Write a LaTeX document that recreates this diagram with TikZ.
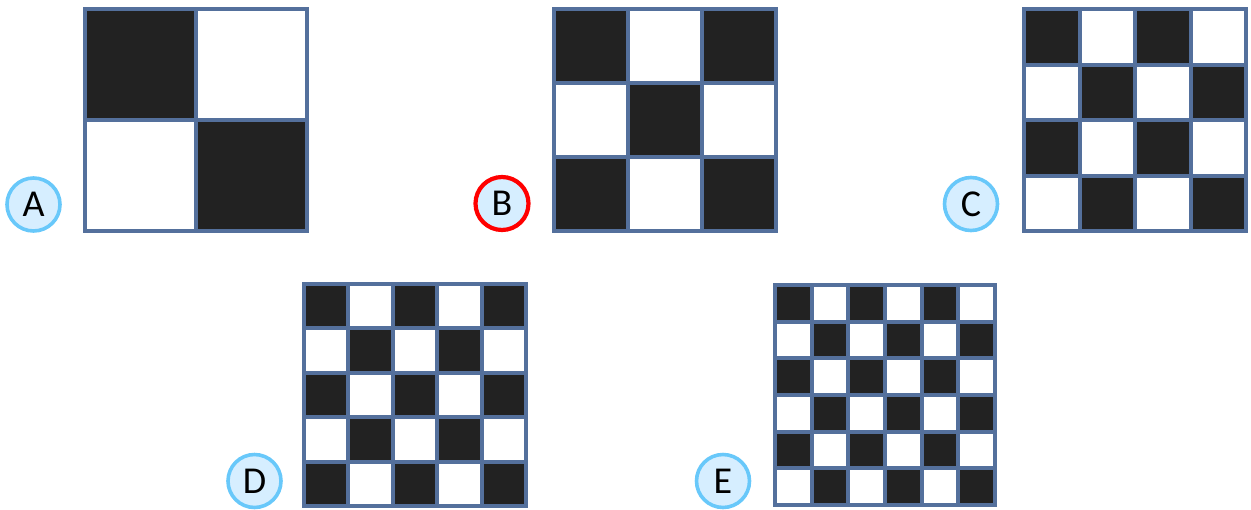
\documentclass[tikz,border=0pt]{standalone}
\usepackage{fontspec}
\setmainfont{Carlito}
\definecolor{gridblue}{RGB}{84,112,156}
\definecolor{cellblack}{RGB}{34,34,34}
\definecolor{badgefill}{RGB}{214,238,255}
\definecolor{badgeline}{RGB}{104,200,250}
\newcommand{\board}[4]{%
  \pgfmathsetmacro{\cellw}{#3/#4}
  \foreach \i in {1,...,#4} \foreach \j in {1,...,#4} {
    \pgfmathparse{int(mod(\i+\j,2))}
    \ifnum\pgfmathresult=0 \fill[cellblack] ({#1+(\i-1)*\cellw},{#2+(\j-1)*\cellw}) rectangle ++(\cellw,\cellw); \fi}
  \foreach \k in {1,...,#4} {\draw[gridline] ({#1+\k*\cellw},#2) -- ++(0,#3);
    \draw[gridline] (#1,{#2+\k*\cellw}) -- ++(#3,0);}
  \draw[gridline, line join=miter] (#1,#2) rectangle ++(#3,#3);}
\tikzset{gridline/.style={draw=gridblue, line width=2pt},
  badge/.style={circle, minimum size=26.5pt, inner sep=0pt, fill=badgefill,
    draw=badgeline, line width=1.8pt, font=\fontsize{19}{23}\selectfont},
  answer/.style={badge, draw=red, line width=2.1pt}}
\begin{document}
\begin{tikzpicture}[x=0.5pt, y=-0.5pt]
  \useasboundingbox (0,0) rectangle (1251,509);
  \board{85}{9}{222}{2} \board{554}{9}{222}{3} \board{1024}{9}{222}{4}
  \board{304}{284}{222}{5} \board{775}{285}{220}{6}
  \node[badge] (optA) at (33.5,204.5) {A}; \node[answer] (optB) at (502,203.5) {B};
  \node[badge] (optC) at (971,204) {C}; \node[badge] (optD) at (254.5,481) {D};
  \node[badge] (optE) at (723,481) {E};
\end{tikzpicture}
\end{document}
